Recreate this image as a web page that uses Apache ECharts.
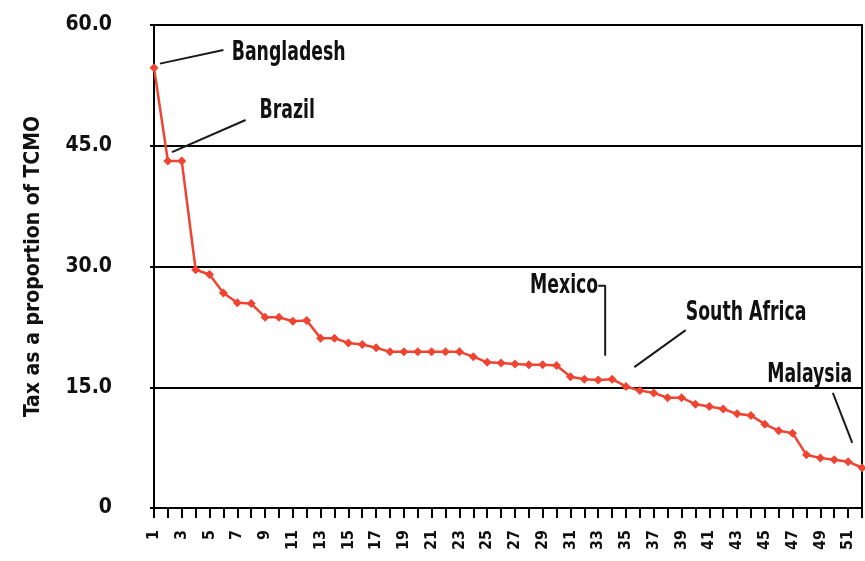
<!DOCTYPE html>
<html>
<head>
<meta charset="utf-8">
<script src="https://cdn.jsdelivr.net/npm/echarts@6/dist/echarts.min.js"></script>
<style>html,body{margin:0;padding:0;background:#fff;}#c{width:865px;height:561px;}</style>
</head>
<body>
<div id="c"></div>
<script>
// Categories 1..52 (country rank)
var categories = ['1','2','3','4','5','6','7','8','9','10','11','12','13','14','15','16','17','18','19','20','21','22','23','24','25','26','27','28','29','30','31','32','33','34','35','36','37','38','39','40','41','42','43','44','45','46','47','48','49','50','51','52'];
// Tax as a proportion of TCMO
var taxValues = [54.7,43.1,43.1,29.6,29.0,26.7,25.5,25.4,23.7,23.7,23.2,23.3,21.1,21.1,20.5,20.3,19.9,19.4,19.4,19.4,19.4,19.4,19.4,18.8,18.1,18.0,17.9,17.8,17.8,17.7,16.3,16.0,15.9,16.0,15.1,14.6,14.3,13.7,13.7,12.9,12.6,12.3,11.7,11.5,10.4,9.6,9.3,6.6,6.2,6.0,5.75,5.0];
var yTicks = [0,15,30,45,60];
// Annotation leader lines, in data space (x = category index from 0, y = value)
var annotationLines = [
  [[0.43,55.2],[5.0,56.9]],
  [[1.3,44.2],[6.6,48.2]],
  [[32.0,27.6],[32.5,27.6],[32.5,18.9]],
  [[34.6,17.5],[38.3,22.1]],
  [[48.9,14.3],[50.3,8.1]]
];
var annotationNames = ['Bangladesh','Brazil','Mexico','South Africa','Malaysia'];
var annotationX = [5.6, 7.6, 32.0, 38.3, 50.3];
var annotationY = [56.5, 49.3, 27.5, 24.2, 16.5];
var annotationAlign = ['left','left','right','left','right'];

var FONT = '"DejaVu Sans Condensed", "DejaVu Sans", sans-serif';
var chart = echarts.init(document.getElementById('c'));

var series = [{
  type:'line',
  data: taxValues,
  xAxisIndex:0, yAxisIndex:0,
  symbol:'diamond', symbolSize:9, showAllSymbol:true,
  lineStyle:{color:'#ef4431', width:2.5},
  itemStyle:{color:'#ef4431'},
  z:5
}];
annotationLines.forEach(function(seg){
  series.push({
    type:'line', data: seg, xAxisIndex:1, yAxisIndex:0,
    symbol:'none', silent:true,
    lineStyle:{color:'#1a1a1a', width:2}, z:4
  });
});
series.push({
  type:'custom', coordinateSystem:'cartesian2d', xAxisIndex:1, yAxisIndex:0, silent:true,
  data: annotationX.map(function(x,i){ return [x, annotationY[i]]; }),
  encode:{x:0, y:1},
  renderItem:function(params, api){
    var p = api.coord([api.value(0), api.value(1)]);
    var i = params.dataIndex;
    return {
      type:'text', x:p[0], y:p[1], scaleX:0.74,
      style:{text:annotationNames[i], fill:'#111', fontFamily:'"DejaVu Sans Condensed", "DejaVu Sans", sans-serif',
        fontWeight:'bold', fontSize:26, align:annotationAlign[i], verticalAlign:'middle'}
    };
  },
  z:6
});

chart.setOption({
  animation:false,
  backgroundColor:'#fff',
  grid:{left:154, right:3, top:25, bottom:53, show:true, borderColor:'#000', borderWidth:2},
  xAxis:[{
    type:'category', data:categories, boundaryGap:false,
    axisLine:{lineStyle:{color:'#000', width:2}},
    axisTick:{show:true, interval:0, length:10, lineStyle:{color:'#000', width:2}},
    axisLabel:{interval:1, rotate:90, color:'#111', fontFamily:FONT, fontWeight:'bold', fontSize:16, margin:22},
    splitLine:{show:false}
  },{
    type:'value', min:0, max:51, show:false
  }],
  yAxis:{
    type:'value', min:0, max:60, interval:15,
    name:'Tax as a proportion of TCMO', nameLocation:'middle', nameRotate:90, nameGap:110,
    nameTextStyle:{color:'#111', fontFamily:FONT, fontWeight:'bold', fontSize:21},
    axisLine:{show:true, lineStyle:{color:'#000', width:2}},
    axisTick:{show:true, length:4, lineStyle:{color:'#000', width:2}},
    axisLabel:{color:'#111', fontFamily:FONT, fontWeight:'bold', fontSize:21, margin:42,
      formatter:function(v){ return v===0 ? '0' : v.toFixed(1); }},
    splitLine:{show:true, lineStyle:{color:'#000', width:2}}
  },
  series: series
});
</script>
</body>
</html>
